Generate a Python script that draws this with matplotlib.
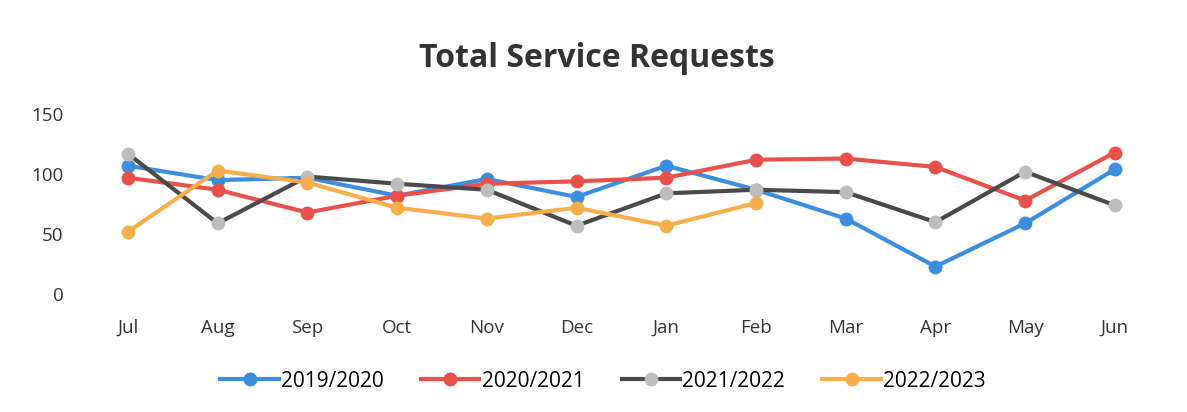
import matplotlib.pyplot as plt
import numpy as np

months = ['Jul', 'Aug', 'Sep', 'Oct', 'Nov', 'Dec', 'Jan', 'Feb', 'Mar', 'Apr', 'May', 'Jun']
s2019 = [107, 95, 97, 82, 96, 81, 107, 87, 63, 23, 59, 104]
s2020 = [97, 87, 68, 82, 92, 94, 97, 112, 113, 106, 78, 118]
s2021 = [117, 59, 98, 92, 87, 57, 84, 87, 85, 60, 102, 74]
s2022 = [52, 103, 93, 72, 63, 72, 57, 76]

plt.rcParams['font.family'] = ['Open Sans', 'DejaVu Sans']

fig = plt.figure(figsize=(11.87, 4.12), dpi=100)
ax = fig.add_axes([0.070, 0.286, 0.907, 0.437])

x = np.arange(len(months))
series = [
    ('2019/2020', s2019, '#3b8ede', '#3b8ede'),
    ('2020/2021', s2020, '#e8504a', '#e8504a'),
    ('2021/2022', s2021, '#4a4a4a', '#bdbdbd'),
    ('2022/2023', s2022, '#f6ae4c', '#f6ae4c'),
]
for label, vals, lc, mc in series:
    ax.plot(x[:len(vals)], vals, color=lc, lw=3, marker='o', markersize=9,
            markerfacecolor=mc, markeredgecolor=mc, label=label, clip_on=False)

ax.set_xlim(-0.5, len(months) - 0.5)
ax.set_ylim(0, 150)
ax.set_yticks([0, 50, 100, 150])
ax.set_xticks(x)
ax.set_xticklabels(months)
ax.tick_params(axis='both', length=0, labelsize=13.5, colors='#333333')
ax.tick_params(axis='y', pad=14)
ax.tick_params(axis='x', pad=18)
for sp in ax.spines.values():
    sp.set_visible(False)

fig.text(0.503, 0.858, 'Total Service Requests', ha='center', va='center',
         fontsize=23, fontweight='bold', color='#333333')

fig.legend(loc='center', bbox_to_anchor=(0.508, 0.075), ncol=4, frameon=False,
           fontsize=15, handlelength=2.8, columnspacing=1.8, handletextpad=0.1)

fig.savefig('out.png', dpi=100)
